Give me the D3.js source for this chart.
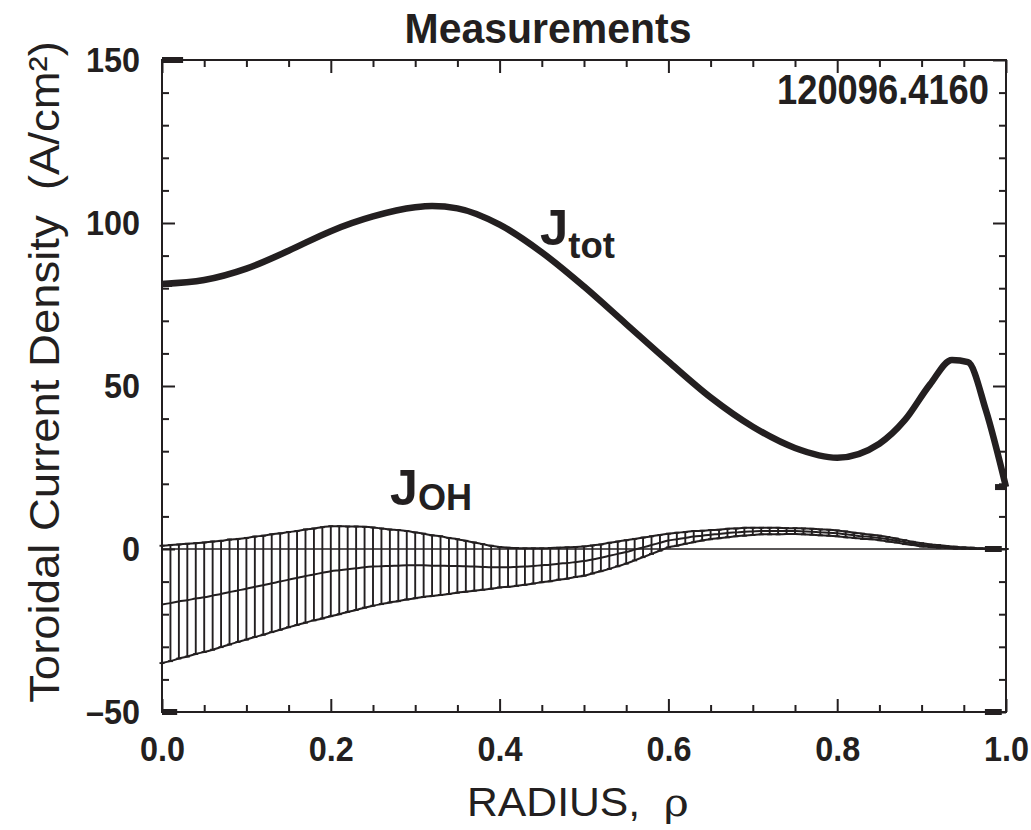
<!DOCTYPE html>
<html>
<head>
<meta charset="utf-8">
<script src="https://cdn.jsdelivr.net/npm/d3@7"></script>
<style>
  body { margin: 0; background: #fff; }
  svg { display: block; }
  text { fill: #231f20; }
</style>
</head>
<body>
<svg id="chart" width="1031" height="830"></svg>
<script>
// ---- data ----
// J_OH sample radii (error bars every 0.01)
const ohRho = [
  0.00, 0.01, 0.02, 0.03, 0.04, 0.05, 0.06, 0.07, 0.08, 0.09,
  0.10, 0.11, 0.12, 0.13, 0.14, 0.15, 0.16, 0.17, 0.18, 0.19,
  0.20, 0.21, 0.22, 0.23, 0.24, 0.25, 0.26, 0.27, 0.28, 0.29,
  0.30, 0.31, 0.32, 0.33, 0.34, 0.35, 0.36, 0.37, 0.38, 0.39,
  0.40, 0.41, 0.42, 0.43, 0.44, 0.45, 0.46, 0.47, 0.48, 0.49,
  0.50, 0.51, 0.52, 0.53, 0.54, 0.55, 0.56, 0.57, 0.58, 0.59,
  0.60, 0.61, 0.62, 0.63, 0.64, 0.65, 0.66, 0.67, 0.68, 0.69,
  0.70, 0.71, 0.72, 0.73, 0.74, 0.75, 0.76, 0.77, 0.78, 0.79,
  0.80, 0.81, 0.82, 0.83, 0.84, 0.85, 0.86, 0.87, 0.88, 0.89,
  0.90, 0.91, 0.92, 0.93, 0.94, 0.95, 0.96, 0.97, 0.98, 0.99,
  1.00
];
const ohCenter = [
  -17.0, -16.6, -16.1, -15.7, -15.2, -14.8, -14.3, -13.8, -13.2, -12.7,
  -12.2, -11.6, -11.1, -10.5, -10.0, -9.4, -8.9, -8.3, -7.8, -7.3,
  -6.8, -6.5, -6.2, -5.9, -5.6, -5.4, -5.3, -5.2, -5.1, -5.0,
  -5.0, -5.0, -5.1, -5.1, -5.2, -5.2, -5.3, -5.4, -5.5, -5.6,
  -5.6, -5.6, -5.5, -5.4, -5.2, -5.0, -4.8, -4.5, -4.3, -4.0,
  -3.7, -3.2, -2.7, -2.1, -1.5, -0.9, -0.2, 0.5, 1.2, 1.9,
  2.6, 3.0, 3.4, 3.8, 4.1, 4.4, 4.6, 4.9, 5.1, 5.3,
  5.4, 5.5, 5.5, 5.5, 5.5, 5.5, 5.4, 5.3, 5.1, 5.0,
  4.8, 4.5, 4.2, 3.9, 3.7, 3.4, 3.0, 2.6, 2.1, 1.7,
  1.3, 1.0, 0.8, 0.6, 0.4, 0.3, 0.2, 0.1, 0.1, 0.0,
  0.0
];
const ohErr = [
  18.0, 17.8, 17.5, 17.3, 17.0, 16.8, 16.6, 16.3, 16.1, 15.8,
  15.6, 15.4, 15.2, 15.0, 14.8, 14.6, 14.4, 14.3, 14.1, 14.0,
  13.8, 13.5, 13.1, 12.8, 12.4, 12.0, 11.6, 11.2, 10.9, 10.5,
  10.1, 9.7, 9.3, 9.0, 8.6, 8.2, 7.8, 7.4, 7.0, 6.6,
  6.2, 6.0, 5.8, 5.6, 5.4, 5.2, 5.1, 4.9, 4.8, 4.6,
  4.5, 4.3, 4.1, 4.0, 3.8, 3.6, 3.3, 3.0, 2.7, 2.4,
  2.1, 2.0, 1.8, 1.7, 1.5, 1.4, 1.3, 1.3, 1.2, 1.2,
  1.1, 1.0, 1.0, 1.0, 0.9, 0.9, 0.9, 0.9, 0.9, 0.9,
  0.9, 0.9, 0.8, 0.8, 0.7, 0.7, 0.7, 0.6, 0.6, 0.5,
  0.5, 0.4, 0.4, 0.3, 0.3, 0.2, 0.2, 0.1, 0.1, 0.0,
  0.0
];

// J_tot profile
const totRho = [0, 0.05, 0.10, 0.15, 0.20, 0.25, 0.30, 0.32, 0.35, 0.40,
  0.45, 0.50, 0.55, 0.60, 0.65, 0.70, 0.75, 0.80, 0.85, 0.88,
  0.91, 0.936, 0.955, 0.976, 1.0];
const totValues = [81.3, 82.5, 86, 91.5, 97.5, 102, 104.8, 105.2, 104.5, 99.5,
  91, 80.5, 69, 57.5, 46.5, 37.5, 31, 28, 32.3, 39.5,
  50.5, 58, 57.3, 42.7, 19];

// short heavy end markers left by the plotting program
const markFrom = [0.000, 0.975, 0.975, 0.000, 0.987, 0.000];
const markTo = [0.025, 0.995, 0.995, 0.018, 1.000, 0.012];
const markValue = [150, 0, -50, -50, 19, 81.3];

// ticks
const xMajorTicks = [0, 0.2, 0.4, 0.6, 0.8, 1.0];
const xTickLabels = ['0.0', '0.2', '0.4', '0.6', '0.8', '1.0'];
const yMajorTicks = [-50, 0, 50, 100, 150];
const yTickLabels = ['\u201350', '0', '50', '100', '150'];
const xMinorStep = 0.05;
const yMinorStep = 10;

const titleText = 'Measurements';
const shotText = '120096.4160';

// ---- layout ----
const ink = '#231f20';
const svg = d3.select('#chart');
const plotLeft = 162, plotRight = 1006, plotTop = 60, plotBottom = 712;

const x = d3.scaleLinear().domain([0, 1]).range([plotLeft, plotRight]);
const y = d3.scaleLinear().domain([-50, 150]).range([plotBottom, plotTop]);

const xMinor = d3.range(0, 1 + 1e-9, xMinorStep).filter(v => Math.abs(v * 5 - Math.round(v * 5)) > 1e-6);
const yMinor = d3.range(-50, 151, yMinorStep).filter(v => v % 50 !== 0);

// condense text horizontally around its anchor point
function squeeze(sel, k) {
  sel.each(function () {
    const x0 = +this.getAttribute('x') || 0;
    d3.select(this).attr('transform', `translate(${x0 * (1 - k)},0) scale(${k},1)`);
  });
}

// scale a placed label to a given width
function fitLabel(g, width) {
  const t = g.select('text');
  const w = t.node().getBBox().width;
  t.attr('transform', `scale(${width / w},1)`);
}

// ---- axes ----
function tickAxis(axis, pos, vals, size) {
  const g = svg.append('g').attr('transform', pos)
    .call(axis.tickValues(vals).tickSize(size).tickFormat(''));
  g.select('.domain').remove();
  g.selectAll('line').attr('stroke', ink).attr('stroke-width', 2);
  return g;
}

// minor ticks all four sides (inward)
tickAxis(d3.axisBottom(x), `translate(0,${plotBottom})`, xMinor, -7);
tickAxis(d3.axisTop(x), `translate(0,${plotTop})`, xMinor, -7);
tickAxis(d3.axisLeft(y), `translate(${plotLeft},0)`, yMinor, -7);
tickAxis(d3.axisRight(y), `translate(${plotRight},0)`, yMinor, -7);
// major ticks
tickAxis(d3.axisTop(x), `translate(0,${plotTop})`, xMajorTicks, -13);
tickAxis(d3.axisRight(y), `translate(${plotRight},0)`, yMajorTicks, -13);

const xAxis = svg.append('g').attr('transform', `translate(0,${plotBottom})`)
  .call(d3.axisBottom(x).tickValues(xMajorTicks).tickSize(-13).tickPadding(23)
    .tickFormat((d, i) => xTickLabels[i]));
xAxis.select('.domain').remove();
xAxis.selectAll('line').attr('stroke', ink).attr('stroke-width', 2);
xAxis.selectAll('text')
  .attr('font-family', '"Liberation Sans", Arial, sans-serif')
  .attr('font-weight', 'bold').attr('font-size', 36).attr('fill', ink);
squeeze(xAxis.selectAll('text'), 0.9);

const yAxis = svg.append('g').attr('transform', `translate(${plotLeft},0)`)
  .call(d3.axisLeft(y).tickValues(yMajorTicks).tickSize(-13).tickPadding(22)
    .tickFormat((d, i) => yTickLabels[i]));
yAxis.select('.domain').remove();
yAxis.selectAll('line').attr('stroke', ink).attr('stroke-width', 2);
yAxis.selectAll('text')
  .attr('font-family', '"Liberation Sans", Arial, sans-serif')
  .attr('font-weight', 'bold').attr('font-size', 36).attr('fill', ink);
squeeze(yAxis.selectAll('text'), 0.9);

// frame
svg.append('rect')
  .attr('x', plotLeft).attr('y', plotTop)
  .attr('width', plotRight - plotLeft).attr('height', plotBottom - plotTop)
  .attr('fill', 'none').attr('stroke', ink).attr('stroke-width', 2);

// zero line
svg.append('line')
  .attr('x1', x(0)).attr('x2', x(1))
  .attr('y1', y(0)).attr('y2', y(0))
  .attr('stroke', ink).attr('stroke-width', 1.6);

// ---- J_OH with error bars ----
const oh = ohRho.map((r, i) => ({ r, c: ohCenter[i], e: ohErr[i] }));
const bars = svg.append('g').attr('class', 'errorbars')
  .attr('stroke', ink).attr('stroke-width', 1.9);
bars.selectAll('line.bar')
  .data(oh)
  .enter()
  .append('line')
  .attr('class', 'bar')
  .attr('x1', d => x(d.r)).attr('x2', d => x(d.r))
  .attr('y1', d => y(d.c - d.e)).attr('y2', d => y(d.c + d.e));
bars.selectAll('line.capTop')
  .data(oh)
  .enter()
  .append('line')
  .attr('class', 'capTop')
  .attr('x1', d => x(d.r) - 2.5).attr('x2', d => x(d.r) + 2.5)
  .attr('y1', d => y(d.c + d.e)).attr('y2', d => y(d.c + d.e));
bars.selectAll('line.capBot')
  .data(oh)
  .enter()
  .append('line')
  .attr('class', 'capBot')
  .attr('x1', d => x(d.r) - 2.5).attr('x2', d => x(d.r) + 2.5)
  .attr('y1', d => y(d.c - d.e)).attr('y2', d => y(d.c - d.e));

const ohLine = acc => d3.line().x(d => x(d.r)).y(d => y(acc(d))).curve(d3.curveMonotoneX);
[d => d.c, d => d.c + d.e, d => d.c - d.e].forEach(acc => {
  svg.append('path')
    .datum(oh)
    .attr('d', ohLine(acc))
    .attr('fill', 'none')
    .attr('stroke', ink)
    .attr('stroke-width', 2);
});

// ---- J_tot ----
const tot = totRho.map((r, i) => ({ r, v: totValues[i] }));
svg.append('path')
  .datum(tot)
  .attr('d', d3.line().x(d => x(d.r)).y(d => y(d.v)).curve(d3.curveMonotoneX))
  .attr('fill', 'none')
  .attr('stroke', ink)
  .attr('stroke-width', 6.5)
  .attr('stroke-linejoin', 'miter');

// heavy end marks
svg.append('g').selectAll('line')
  .data(markValue)
  .enter()
  .append('line')
  .attr('x1', (d, i) => x(markFrom[i])).attr('x2', (d, i) => x(markTo[i]))
  .attr('y1', d => y(d)).attr('y2', d => y(d))
  .attr('stroke', ink).attr('stroke-width', 6);

// ---- labels ----
const sans = '"Liberation Sans", Arial, sans-serif';

// title
const title = svg.append('g').attr('transform', 'translate(548,43)');
title.append('text').attr('text-anchor', 'middle')
  .attr('font-family', sans).attr('font-weight', 'bold').attr('font-size', 42)
  .text(titleText);
fitLabel(title, 287);

// shot number
const shot = svg.append('g').attr('transform', 'translate(989,104)');
shot.append('text').attr('text-anchor', 'end')
  .attr('font-family', sans).attr('font-weight', 'bold').attr('font-size', 42)
  .text(shotText);
fitLabel(shot, 212);

// x axis title
const xt = svg.append('g').attr('transform', 'translate(578,816)');
const xtText = xt.append('text').attr('text-anchor', 'middle')
  .attr('font-family', sans).attr('font-size', 40).style('white-space', 'pre');
xtText.append('tspan').text('RADIUS,  ');
xtText.append('tspan').attr('font-family', '"DejaVu Serif", "Liberation Serif", serif').text('\u03c1');
fitLabel(xt, 222);

// y axis title
const yt = svg.append('g').attr('transform', 'translate(59,372) rotate(-90)');
yt.append('text').attr('text-anchor', 'middle')
  .attr('font-family', sans).attr('font-size', 42).style('white-space', 'pre')
  .text('Toroidal Current Density  (A/cm\u00b2)');
fitLabel(yt, 662);

// curve labels
const jt = svg.append('g').attr('transform', 'translate(540,245)');
const jtText = jt.append('text').attr('font-family', sans).attr('font-weight', 'bold');
jtText.append('tspan').attr('font-size', 50).text('J');
jtText.append('tspan').attr('font-size', 36).attr('dy', 13).text('tot');
fitLabel(jt, 75);

const jo = svg.append('g').attr('transform', 'translate(390,505)');
const joText = jo.append('text').attr('font-family', sans).attr('font-weight', 'bold');
joText.append('tspan').attr('font-size', 50).text('J');
joText.append('tspan').attr('font-size', 36).attr('dy', 5).text('OH');
fitLabel(jo, 82);
</script>
</body>
</html>
